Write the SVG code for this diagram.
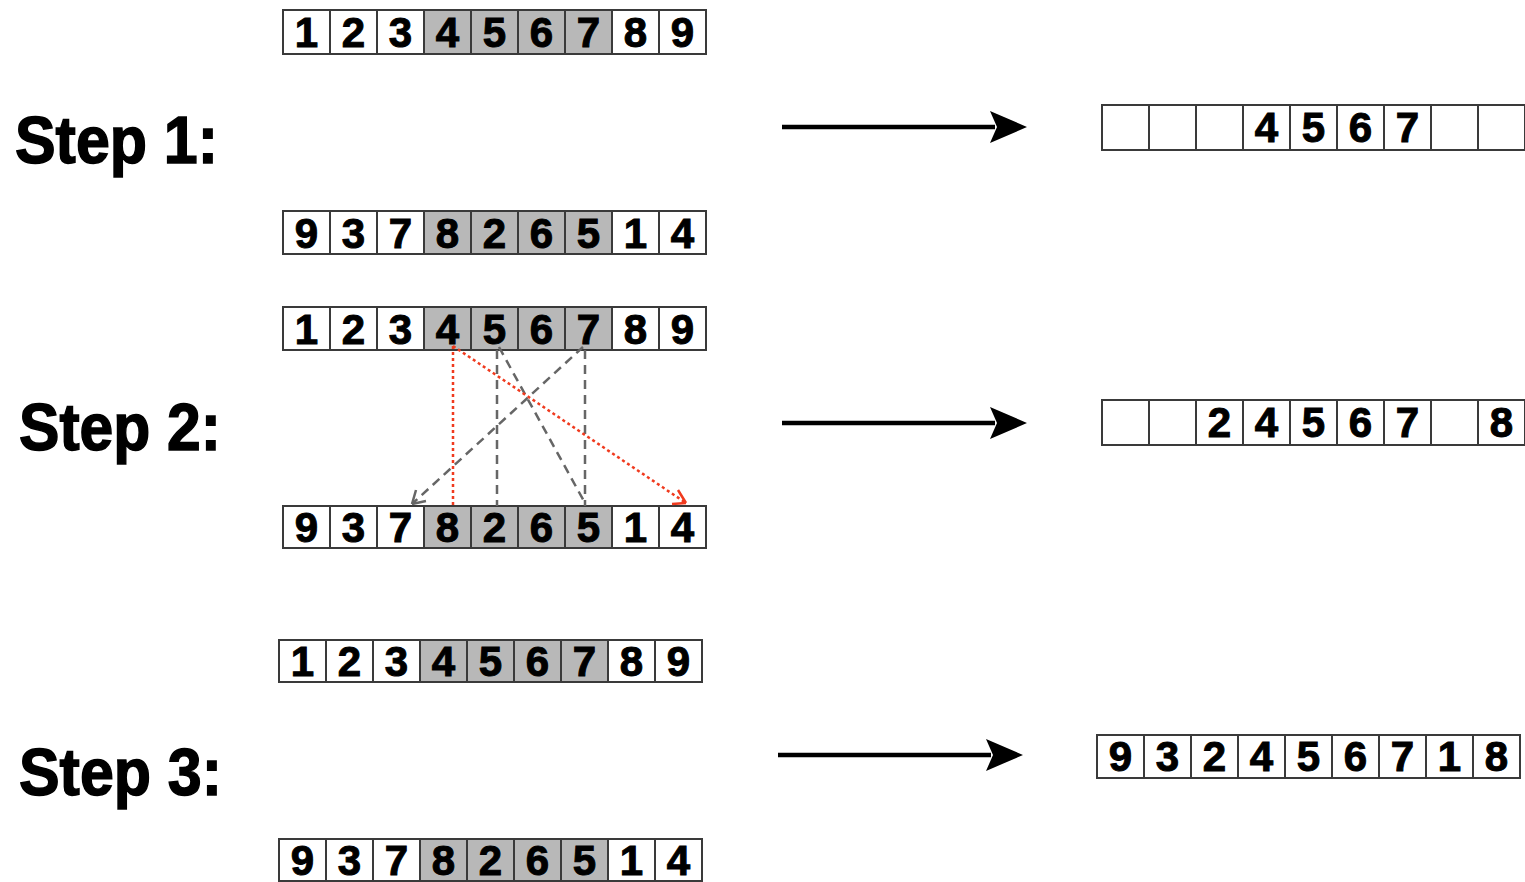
<svg xmlns="http://www.w3.org/2000/svg" width="1525" height="882" viewBox="0 0 1525 882">
<style>
.c{fill:#fff;stroke:#3a3a3a;stroke-width:2}
.g{fill:#b8b8b8;stroke:#3a3a3a;stroke-width:2}
.d{font-family:"Liberation Sans",Arial,sans-serif;font-weight:bold;font-size:42px;fill:#000;stroke:#000;stroke-width:1;text-anchor:middle}
.s{font-family:"Liberation Sans",Arial,sans-serif;font-weight:bold;font-size:66px;fill:#000;stroke:#000;stroke-width:1.5}
.red{stroke:#f03a1e;stroke-width:2.5;stroke-dasharray:3 3;fill:none}
.gry{stroke:#666;stroke-width:2.5;stroke-dasharray:9 6;fill:none}
.big{stroke:#000;stroke-width:4.5;fill:none}
</style>
<defs>
<path id="head" d="M0,0 L-37,-16 L-30,0 L-37,16 Z" fill="#000"/>
</defs>

<g id="labels">
<text class="s" x="15" y="163" textLength="203" lengthAdjust="spacingAndGlyphs">Step 1:</text>
<text class="s" x="19" y="450" textLength="202" lengthAdjust="spacingAndGlyphs">Step 2:</text>
<text class="s" x="19" y="795" textLength="203" lengthAdjust="spacingAndGlyphs">Step 3:</text>
</g>

<g id="arr1">
<rect class="c" x="283" y="10" width="47" height="44"/><rect class="c" x="330" y="10" width="47" height="44"/><rect class="c" x="377" y="10" width="47" height="44"/>
<rect class="g" x="424" y="10" width="47" height="44"/><rect class="g" x="471" y="10" width="47" height="44"/><rect class="g" x="518" y="10" width="47" height="44"/><rect class="g" x="565" y="10" width="47" height="44"/>
<rect class="c" x="612" y="10" width="47" height="44"/><rect class="c" x="659" y="10" width="47" height="44"/>
<text class="d" x="306.5" y="47">1</text><text class="d" x="353.5" y="47">2</text><text class="d" x="400.5" y="47">3</text><text class="d" x="447.5" y="47">4</text><text class="d" x="494.5" y="47">5</text><text class="d" x="541.5" y="47">6</text><text class="d" x="588.5" y="47">7</text><text class="d" x="635.5" y="47">8</text><text class="d" x="682.5" y="47">9</text>
</g>

<g id="arr2">
<rect class="c" x="283" y="211" width="47" height="43"/><rect class="c" x="330" y="211" width="47" height="43"/><rect class="c" x="377" y="211" width="47" height="43"/>
<rect class="g" x="424" y="211" width="47" height="43"/><rect class="g" x="471" y="211" width="47" height="43"/><rect class="g" x="518" y="211" width="47" height="43"/><rect class="g" x="565" y="211" width="47" height="43"/>
<rect class="c" x="612" y="211" width="47" height="43"/><rect class="c" x="659" y="211" width="47" height="43"/>
<text class="d" x="306.5" y="248">9</text><text class="d" x="353.5" y="248">3</text><text class="d" x="400.5" y="248">7</text><text class="d" x="447.5" y="248">8</text><text class="d" x="494.5" y="248">2</text><text class="d" x="541.5" y="248">6</text><text class="d" x="588.5" y="248">5</text><text class="d" x="635.5" y="248">1</text><text class="d" x="682.5" y="248">4</text>
</g>

<g id="arr3">
<rect class="c" x="283" y="307" width="47" height="43"/><rect class="c" x="330" y="307" width="47" height="43"/><rect class="c" x="377" y="307" width="47" height="43"/>
<rect class="g" x="424" y="307" width="47" height="43"/><rect class="g" x="471" y="307" width="47" height="43"/><rect class="g" x="518" y="307" width="47" height="43"/><rect class="g" x="565" y="307" width="47" height="43"/>
<rect class="c" x="612" y="307" width="47" height="43"/><rect class="c" x="659" y="307" width="47" height="43"/>
<text class="d" x="306.5" y="344">1</text><text class="d" x="353.5" y="344">2</text><text class="d" x="400.5" y="344">3</text><text class="d" x="447.5" y="344">4</text><text class="d" x="494.5" y="344">5</text><text class="d" x="541.5" y="344">6</text><text class="d" x="588.5" y="344">7</text><text class="d" x="635.5" y="344">8</text><text class="d" x="682.5" y="344">9</text>
</g>

<g id="arr4">
<rect class="c" x="283" y="506" width="47" height="42"/><rect class="c" x="330" y="506" width="47" height="42"/><rect class="c" x="377" y="506" width="47" height="42"/>
<rect class="g" x="424" y="506" width="47" height="42"/><rect class="g" x="471" y="506" width="47" height="42"/><rect class="g" x="518" y="506" width="47" height="42"/><rect class="g" x="565" y="506" width="47" height="42"/>
<rect class="c" x="612" y="506" width="47" height="42"/><rect class="c" x="659" y="506" width="47" height="42"/>
<text class="d" x="306.5" y="542">9</text><text class="d" x="353.5" y="542">3</text><text class="d" x="400.5" y="542">7</text><text class="d" x="447.5" y="542">8</text><text class="d" x="494.5" y="542">2</text><text class="d" x="541.5" y="542">6</text><text class="d" x="588.5" y="542">5</text><text class="d" x="635.5" y="542">1</text><text class="d" x="682.5" y="542">4</text>
</g>

<g id="arr5">
<rect class="c" x="279" y="640" width="47" height="42"/><rect class="c" x="326" y="640" width="47" height="42"/><rect class="c" x="373" y="640" width="47" height="42"/>
<rect class="g" x="420" y="640" width="47" height="42"/><rect class="g" x="467" y="640" width="47" height="42"/><rect class="g" x="514" y="640" width="47" height="42"/><rect class="g" x="561" y="640" width="47" height="42"/>
<rect class="c" x="608" y="640" width="47" height="42"/><rect class="c" x="655" y="640" width="47" height="42"/>
<text class="d" x="302.5" y="676">1</text><text class="d" x="349.5" y="676">2</text><text class="d" x="396.5" y="676">3</text><text class="d" x="443.5" y="676">4</text><text class="d" x="490.5" y="676">5</text><text class="d" x="537.5" y="676">6</text><text class="d" x="584.5" y="676">7</text><text class="d" x="631.5" y="676">8</text><text class="d" x="678.5" y="676">9</text>
</g>

<g id="arr6">
<rect class="c" x="279" y="839" width="47" height="42"/><rect class="c" x="326" y="839" width="47" height="42"/><rect class="c" x="373" y="839" width="47" height="42"/>
<rect class="g" x="420" y="839" width="47" height="42"/><rect class="g" x="467" y="839" width="47" height="42"/><rect class="g" x="514" y="839" width="47" height="42"/><rect class="g" x="561" y="839" width="47" height="42"/>
<rect class="c" x="608" y="839" width="47" height="42"/><rect class="c" x="655" y="839" width="47" height="42"/>
<text class="d" x="302.5" y="875">9</text><text class="d" x="349.5" y="875">3</text><text class="d" x="396.5" y="875">7</text><text class="d" x="443.5" y="875">8</text><text class="d" x="490.5" y="875">2</text><text class="d" x="537.5" y="875">6</text><text class="d" x="584.5" y="875">5</text><text class="d" x="631.5" y="875">1</text><text class="d" x="678.5" y="875">4</text>
</g>

<g id="res1">
<rect class="c" x="1102" y="105" width="47" height="45"/><rect class="c" x="1149" y="105" width="47" height="45"/><rect class="c" x="1196" y="105" width="47" height="45"/><rect class="c" x="1243" y="105" width="47" height="45"/><rect class="c" x="1290" y="105" width="47" height="45"/><rect class="c" x="1337" y="105" width="47" height="45"/><rect class="c" x="1384" y="105" width="47" height="45"/><rect class="c" x="1431" y="105" width="47" height="45"/><rect class="c" x="1478" y="105" width="47" height="45"/>
<text class="d" x="1266.5" y="142">4</text><text class="d" x="1313.5" y="142">5</text><text class="d" x="1360.5" y="142">6</text><text class="d" x="1407.5" y="142">7</text>
</g>

<g id="res2">
<rect class="c" x="1102" y="400" width="47" height="45"/><rect class="c" x="1149" y="400" width="47" height="45"/><rect class="c" x="1196" y="400" width="47" height="45"/><rect class="c" x="1243" y="400" width="47" height="45"/><rect class="c" x="1290" y="400" width="47" height="45"/><rect class="c" x="1337" y="400" width="47" height="45"/><rect class="c" x="1384" y="400" width="47" height="45"/><rect class="c" x="1431" y="400" width="47" height="45"/><rect class="c" x="1478" y="400" width="47" height="45"/>
<text class="d" x="1219.5" y="437">2</text><text class="d" x="1266.5" y="437">4</text><text class="d" x="1313.5" y="437">5</text><text class="d" x="1360.5" y="437">6</text><text class="d" x="1407.5" y="437">7</text><text class="d" x="1501.5" y="437">8</text>
</g>

<g id="res3">
<rect class="c" x="1097" y="735" width="47" height="43"/><rect class="c" x="1144" y="735" width="47" height="43"/><rect class="c" x="1191" y="735" width="47" height="43"/><rect class="c" x="1238" y="735" width="47" height="43"/><rect class="c" x="1285" y="735" width="47" height="43"/><rect class="c" x="1332" y="735" width="47" height="43"/><rect class="c" x="1379" y="735" width="47" height="43"/><rect class="c" x="1426" y="735" width="47" height="43"/><rect class="c" x="1473" y="735" width="47" height="43"/>
<text class="d" x="1120.5" y="771">9</text><text class="d" x="1167.5" y="771">3</text><text class="d" x="1214.5" y="771">2</text><text class="d" x="1261.5" y="771">4</text><text class="d" x="1308.5" y="771">5</text><text class="d" x="1355.5" y="771">6</text><text class="d" x="1402.5" y="771">7</text><text class="d" x="1449.5" y="771">1</text><text class="d" x="1496.5" y="771">8</text>
</g>

<g id="connectors">
<line class="big" x1="782" y1="127" x2="995" y2="127"/><use href="#head" transform="translate(1027,127)"/>
<line class="big" x1="782" y1="423" x2="995" y2="423"/><use href="#head" transform="translate(1027,423)"/>
<line class="big" x1="778" y1="755" x2="991" y2="755"/><use href="#head" transform="translate(1023,755)"/>

<line class="gry" x1="497" y1="350" x2="497" y2="506"/>
<line class="gry" x1="585" y1="350" x2="585" y2="506"/>
<line class="gry" x1="499" y1="347" x2="585" y2="503"/>
<line class="gry" x1="583" y1="347" x2="412" y2="504"/>
<path d="M412,504 L416,490 M412,504 L426,501" stroke="#666" stroke-width="2.5" fill="none"/>
<line class="red" x1="453" y1="346" x2="453" y2="506"/>
<line class="red" x1="453" y1="346" x2="686" y2="503"/>
<path d="M686,503 L678,490 M686,503 L672,504" stroke="#f03a1e" stroke-width="2.5" fill="none"/>
</g>
</svg>
